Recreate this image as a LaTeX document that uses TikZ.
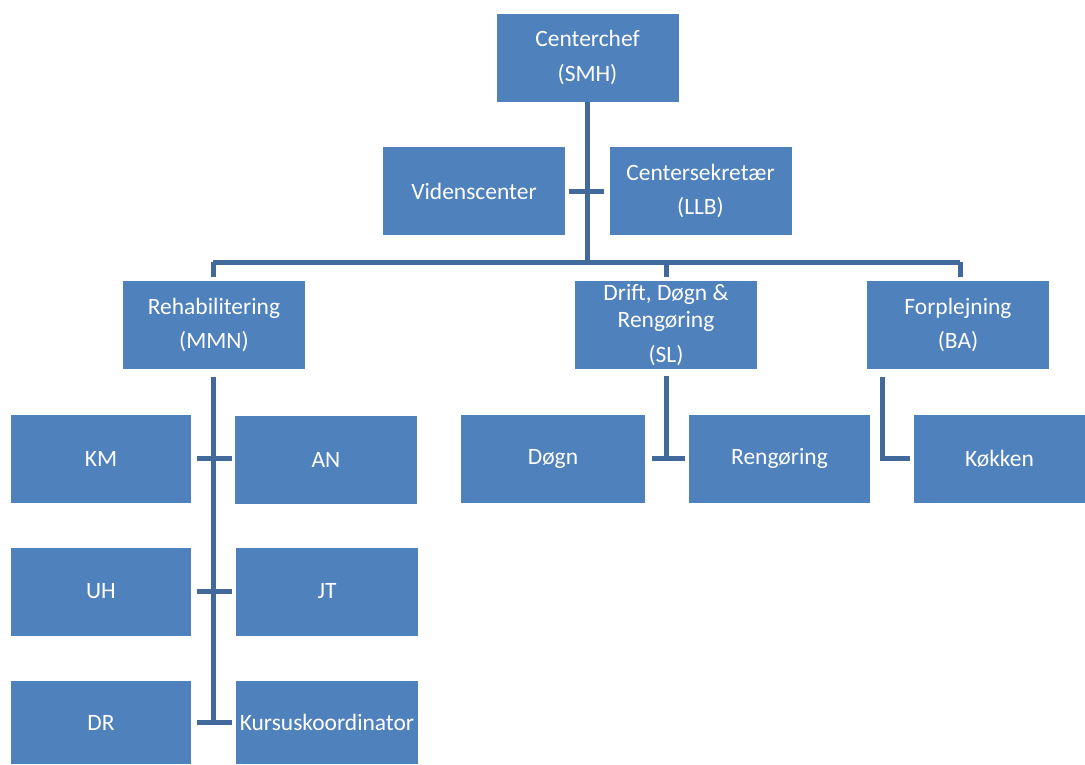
\documentclass[tikz,border=0pt]{standalone}
\usepackage{fontspec}
\setmainfont{Carlito}
\usepackage{xcolor}
\usetikzlibrary{positioning,calc}
\definecolor{unitblue}{HTML}{4F81BD}
\definecolor{linkblue}{HTML}{41699B}

\begin{document}
\begin{tikzpicture}[
    x=0.75pt, y=-0.75pt,
    unit/.style={rectangle, fill=unitblue, text=white, minimum width=136.5pt, minimum height=66pt, inner sep=0pt, align=center, font=\fontsize{17.6}{20}\selectfont},
    link/.style={draw=linkblue, line width=3.75pt}
  ]
    \useasboundingbox (0,0) rectangle (1085,764);
    \node[unit] (chef) at (587.5,57.5) {Centerchef\\[6pt](SMH)};
    \node[unit] (viden) at (474,191) {Videnscenter};
    \node[unit] (sekr) at (700.5,191) {Centersekretær\\[6pt](LLB)};
    \node[unit] (rehab) at (214,325) {Rehabilitering\\[6pt](MMN)};
    \node[unit] (drift) at (666,325) {Drift, Døgn \&\\Rengøring\\[6pt](SL)};
    \node[unit] (forp) at (958,325) {Forplejning\\[6pt](BA)};
    \node[unit, minimum width=135pt] (km) at (101,458.5) {KM};
    \node[unit] (an) at (326,459.5) {AN};
    \node[unit, minimum width=135pt] (uh) at (101,591.5) {UH};
    \node[unit] (jt) at (327,591.5) {JT};
    \node[unit, minimum width=135pt, minimum height=62.25pt] (dr) at (101,722.5) {DR};
    \node[unit, minimum height=62.25pt] (kurs) at (327,722.5) {Kursuskoordinator};
    \node[unit, minimum width=138pt] (dogn) at (553,458.5) {Døgn};
    \node[unit, minimum width=135.75pt] (reng) at (779.5,458.5) {Rengøring};
    \node[unit, minimum width=128.25pt] (kok) at (999.5,458.5) {Køkken};
    \coordinate (bus) at (587,262);
    \draw[link] (chef.south) -- (chef.south |- bus);
    \draw[link] ($(rehab.north |- bus)+(-1,0)$) -- ($(forp.north |- bus)+(2,0)$);
    \draw[link, shorten <=3pt] ($(rehab.north)+(-1,0)$) -- ($(rehab.north |- bus)+(-1,0)$);
    \draw[link, shorten <=3pt] (drift.north) -- (drift.north |- bus);
    \draw[link, shorten <=3pt] ($(forp.north)+(2,0)$) -- ($(forp.north |- bus)+(2,0)$);
    \draw[link, shorten <=3pt, shorten >=3.75pt] (viden.east) -- (sekr.west);
    \draw[link, shorten <=6pt] ($(rehab.south)+(-1,0)$) -- ($(rehab.south |- dr.east)+(-1,0)$);
    \draw[link, shorten <=4.5pt, shorten >=2.25pt] (km.east) -- (an.west |- km.east);
    \draw[link, shorten <=4.5pt, shorten >=3pt] (uh.east) -- (jt.west |- uh.east);
    \draw[link, shorten <=4.5pt, shorten >=3pt] (dr.east) -- (kurs.west |- dr.east);
    \draw[link, shorten <=5pt] (drift.south) -- (drift.south |- dogn.east);
    \draw[link, shorten <=5pt, shorten >=3pt] (dogn.east) -- (reng.west);
    \draw[link, shorten <=6pt, shorten >=3pt] ([xshift=12pt]forp.south west) |- (kok.west);
  \end{tikzpicture}
\end{document}
